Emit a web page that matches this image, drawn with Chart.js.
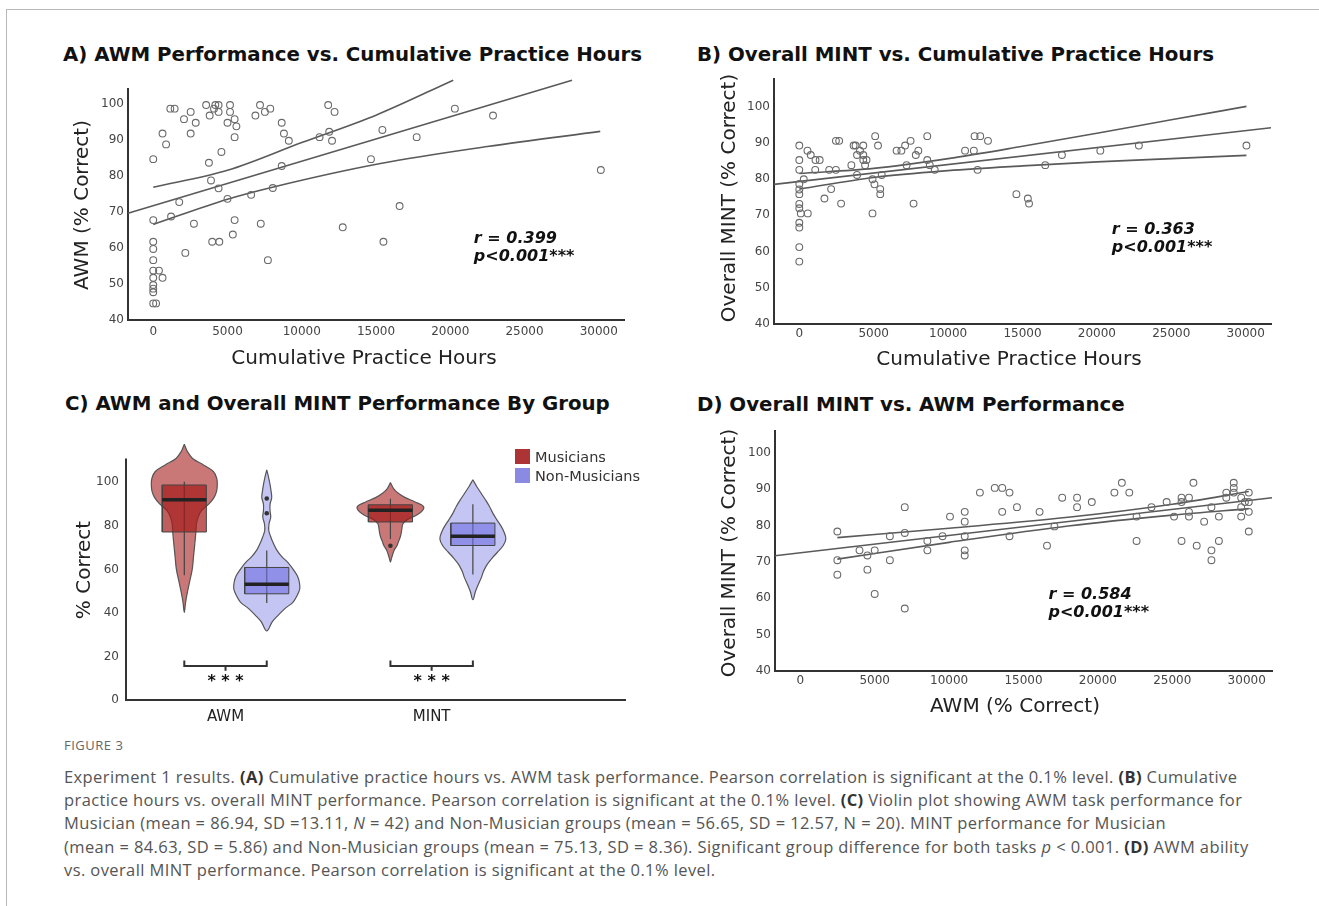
<!DOCTYPE html>
<html lang="en">
<head>
<meta charset="UTF-8" />
<meta name="viewport" content="width=device-width, initial-scale=1.0"/>
<title>Figure 3 - Experiment 1 results</title>
<script src="https://cdn.jsdelivr.net/npm/chart.js"></script>
<style>
  body { margin: 0; background: #fff; }
  #fig { position: relative; width: 1319px; height: 906px; overflow: hidden;
         font-family: 'DejaVu Sans', Verdana, sans-serif; color: #222; }
  #frame { position: absolute; left: 6px; top: 9px; width: 1330px; height: 910px;
           border-top: 1px solid #b8b8b8; border-left: 1px solid #b8b8b8; }
  canvas { position: absolute; }
  .ttl { position: absolute; font-weight: bold; font-size: 19.8px; color: #111;
         white-space: nowrap; transform: translateY(-50%); }
  .axt { position: absolute; font-size: 20px; color: #222; white-space: nowrap;
         transform: translate(-50%, -50%); }
  .axt.v { transform: translate(-50%, -50%) rotate(-90deg); }
  .sw { position: absolute; width: 15px; height: 15px; }
  .leg { position: absolute; font-size: 14.5px; color: #333; white-space: nowrap; transform: translateY(-50%); }
  .cap { position: absolute; left: 64px; font-family: 'Open Sans', sans-serif; font-size: 16.5px;
         letter-spacing: 0.4px; color: #555; white-space: nowrap; transform: translateY(-50%); }
  .cap b { color: #333; }
  .figno { position: absolute; left: 64px; top: 745px; font-family: 'Open Sans', sans-serif;
           font-size: 13px; letter-spacing: 0.5px; color: #666; transform: translateY(-50%); }
</style>
</head>
<body>
<div id="fig">
  <div id="frame"></div>

  <div class="ttl" style="left:63px;top:54px">A) AWM Performance vs. Cumulative Practice Hours</div>
  <div class="ttl" style="left:697px;top:54px">B) Overall MINT vs. Cumulative Practice Hours</div>
  <div class="ttl" style="left:65px;top:403px">C) AWM and Overall MINT Performance By Group</div>
  <div class="ttl" style="left:697px;top:404px">D) Overall MINT vs. AWM Performance</div>

  <canvas id="chartA" width="570" height="272" style="left:60px;top:78px"></canvas>
  <canvas id="chartB" width="580" height="287" style="left:700px;top:68px"></canvas>
  <canvas id="chartC" width="600" height="302" style="left:60px;top:428px"></canvas>
  <canvas id="chartD" width="580" height="285" style="left:700px;top:420px"></canvas>

  <div class="axt v" style="left:81px;top:205px">AWM (% Correct)</div>
  <div class="axt" style="left:364px;top:357px">Cumulative Practice Hours</div>
  <div class="axt v" style="left:728px;top:198px">Overall MINT (% Correct)</div>
  <div class="axt" style="left:1009px;top:358px">Cumulative Practice Hours</div>
  <div class="axt v" style="left:83px;top:570px">% Correct</div>
  <div class="axt v" style="left:728px;top:553px">Overall MINT (% Correct)</div>
  <div class="axt" style="left:1015px;top:705px">AWM (% Correct)</div>

  <div class="sw" style="left:515px;top:449px;background:#ac3434"></div>
  <div class="leg" style="left:535px;top:457px">Musicians</div>
  <div class="sw" style="left:515px;top:468px;background:#8a8ae2"></div>
  <div class="leg" style="left:535px;top:476px">Non-Musicians</div>

  <div class="figno">FIGURE 3</div>
  <div class="cap" style="top:776px">Experiment 1 results. <b>(A)</b> Cumulative practice hours vs. AWM task performance. Pearson correlation is significant at the 0.1% level. <b>(B)</b> Cumulative</div>
  <div class="cap" style="top:799px">practice hours vs. overall MINT performance. Pearson correlation is significant at the 0.1% level. <b>(C)</b> Violin plot showing AWM task performance for</div>
  <div class="cap" style="top:822px">Musician (mean = 86.94, SD =13.11, <i>N</i> = 42) and Non-Musician groups (mean = 56.65, SD = 12.57, N = 20). MINT performance for Musician</div>
  <div class="cap" style="top:846px">(mean = 84.63, SD = 5.86) and Non-Musician groups (mean = 75.13, SD = 8.36). Significant group difference for both tasks <i>p</i> &lt; 0.001. <b>(D)</b> AWM ability</div>
  <div class="cap" style="top:869px">vs. overall MINT performance. Pearson correlation is significant at the 0.1% level.</div>
</div>

<script>
// ---- values ----
const hourTicks = [0, 5000, 10000, 15000, 20000, 25000, 30000];
const pctTicks = [40, 50, 60, 70, 80, 90, 100];
const groupTicks = [0, 20, 40, 60, 80, 100];

// A) practice hours vs AWM
const aHours = [0,625,865,1150,1440,2070,2520,2520,2860,3560,3800,4090,4180,4400,4400,5000,5170,5170,5480,5600,
  5480,4590,3750,3890,4400,5000,1750,1200,0,2740,5480,5360,3970,4450,2160,0,0,0,0,385,
  625,0,0,0,0,0,190,6590,7240,7720,8050,8650,6880,7190,7520,7880,8650,8800,9130,11200,
  11780,12210,11850,12040,12760,14660,15430,15500,16590,17740,20310,22880,30140];
const aAWM = [84.6,91.7,88.7,98.6,98.6,95.7,97.7,91.7,94.7,99.6,96.7,98.6,99.6,99.6,97.7,94.7,99.6,97.7,95.7,93.7,
  90.7,86.6,83.6,78.7,76.5,73.6,72.7,68.7,67.7,66.7,67.7,63.7,61.7,61.7,58.6,61.7,59.7,56.6,53.7,53.7,
  51.7,51.7,49.7,48.7,47.7,44.6,44.6,74.7,66.7,56.6,76.6,82.7,96.7,99.6,97.7,98.6,94.7,91.7,89.7,90.7,
  99.6,97.7,92.2,89.7,65.7,84.6,92.7,61.7,71.6,90.7,98.6,96.7,81.6];
const aFitX = [-1700, 28200], aFitY = [69.6, 106.5];
const aUpX = [0, 5000, 10000, 15000, 20200], aUpY = [76.8, 81.5, 89.2, 96.8, 106.5];
const aLoX = [0, 5000, 8100, 15300, 22500, 30100], aLoY = [66.5, 73.5, 76.9, 83.4, 88.1, 92.3];
const aStats = ['r = 0.399', 'p<0.001***'];

// B) practice hours vs overall MINT
const bHours = [0,0,0,0,0,0,0,0,0,0,0,0,100,570,300,550,770,1090,1370,1070,
  1690,2010,2460,2140,2460,2680,2810,3500,3650,3780,3880,3880,4080,4300,4300,4300,4420,4520,4920,5050,
  4920,5100,5290,5440,5440,5540,6540,6860,7110,7480,7210,7680,7830,8000,8600,8600,8770,9100,11140,11730,
  11780,12160,12680,11980,14590,15360,15440,16530,17650,20230,22820,30050];
const bMINT = [89.2,85.2,82.5,78.6,77.1,75.8,73.1,71.9,67.9,66.6,61.2,57.2,70.5,70.5,79.9,87.8,86.6,85.2,85.2,82.5,
  74.6,82.5,82.5,77.2,90.5,90.5,73.2,83.8,89.2,89.2,81.1,86.6,87.8,89.2,86.6,85.2,83.8,85.2,79.9,78.5,
  70.5,91.8,89.2,77.2,75.8,81.1,87.8,87.8,89.2,90.5,83.8,73.2,86.6,87.8,91.8,85.2,83.8,82.5,87.8,87.8,
  91.8,91.8,90.5,82.5,75.8,74.6,73.2,83.8,86.6,87.8,89.2,89.2];
const bFitX = [-1700, 31700], bFitY = [78.5, 94.1];
const bUpX = [0, 5000, 10000, 15000, 20000, 25000, 30050], bUpY = [81.5, 82.9, 85.6, 89.0, 92.6, 96.3, 100.0];
const bLoX = [0, 5000, 10000, 15000, 20000, 25000, 30050], bLoY = [77.2, 80.4, 82.3, 83.6, 84.7, 85.6, 86.5];
const bStats = ['r = 0.363', 'p<0.001***'];

// D) AWM vs overall MINT
const dAWM = [2490,2490,2490,3980,4510,4510,5000,5000,6020,6020,7020,7020,7020,8540,8540,9560,10060,11050,11050,11050,
  11050,11050,12070,13070,13570,13570,14060,14060,14560,16080,16580,17080,17600,18600,18600,19590,21110,21610,22110,22600,
  22600,23600,24620,25120,25620,25620,25620,26120,26120,26120,26420,26640,27140,27630,27630,27630,28130,28130,28630,28630,
  29130,29130,29130,29630,29630,29630,29880,30140,30140,30140,30140];
const dMINT = [78.4,70.5,66.5,73.2,71.8,67.9,73.2,61.2,77.1,70.5,85.1,78.0,57.2,75.8,73.2,77.1,82.5,83.8,81.1,77.1,
  73.2,71.8,89.1,90.4,90.4,83.8,89.1,77.1,85.1,83.8,74.5,79.8,87.7,87.7,85.1,86.5,89.1,91.8,89.1,82.5,
  75.8,85.1,86.5,82.5,87.7,86.5,75.8,87.7,83.8,82.5,91.8,74.5,81.1,85.1,73.2,70.5,82.5,75.8,89.1,87.7,
  91.8,90.4,89.1,87.7,85.1,82.5,86.5,89.1,86.5,83.8,78.4];
const dFitX = [-1700, 31700], dFitY = [71.7, 87.7];
const dUpX = [2490, 10000, 18000, 25000, 30140], dUpY = [76.7, 79.3, 82.3, 85.9, 89.4];
const dLoX = [2490, 10000, 18000, 25000, 30140], dLoY = [70.8, 75.4, 79.9, 82.9, 84.7];
const dStats = ['r = 0.584', 'p<0.001***'];

// C) violins: % correct levels and relative width of each violin
const tasks = ['AWM', 'MINT'];
const groups = ['Musicians', 'Non-Musicians'];
const musAwmY = [117.5,114,111,108,105,102,99,96,93,90,87,84,81,77,72,66,60,55,50,45,40.3];
const musAwmDens = [0,0.1,0.25,0.58,0.88,0.98,1.0,0.98,0.9,0.74,0.52,0.42,0.37,0.35,0.32,0.28,0.24,0.17,0.1,0.04,0];
const nonAwmY = [105.7,102,99,96,93,90,87,84,81,78,75,72,69,66,63,60,57,54,51,48,45,42,39,36,31.7];
const nonAwmDens = [0,0.06,0.1,0.13,0.15,0.1,0.1,0.12,0.07,0.06,0.12,0.2,0.3,0.45,0.65,0.8,0.93,0.99,1.0,0.92,0.8,0.55,0.35,0.17,0];
const musMintY = [99.9,97,95,93,91,89,87,85,83,81,79,77,75,73,71,69,67,65,63.3];
const musMintDens = [0,0.1,0.24,0.45,0.75,1.0,0.97,0.8,0.52,0.38,0.35,0.33,0.3,0.25,0.2,0.12,0.07,0.03,0];
const nonMintY = [101.2,98,95,92,89,86,83,80,77,74,71,68,65,62,59,56,53,50,46.1];
const nonMintDens = [0,0.12,0.25,0.38,0.5,0.6,0.72,0.85,0.95,1.0,0.92,0.75,0.57,0.42,0.32,0.25,0.16,0.08,0];
// box: low whisker, Q1, median, Q3, high whisker
const musAwmBox = [57.3, 77.2, 92.0, 98.8, 100.3];
const nonAwmBox = [44.6, 48.8, 53.2, 60.9, 68.7];
const musMintBox = [74.0, 81.8, 87.2, 89.7, 92.5];
const nonMintBox = [57.7, 71.0, 75.2, 81.3, 89.9];
const nonAwmOut = [92.6, 85.8];
const musMintOut = [70.9];

// ---- drawing ----
const FONT = "'DejaVu Sans', Verdana, sans-serif";
const pairs = (xs, ys) => xs.map((x, i) => ({x, y: ys[i]}));

function linAxis(min, max, ticks, size, pad, horizontal) {
  return {
    type: 'linear', min, max,
    grid: {display: false, drawTicks: false},
    border: {display: true, color: '#333', width: 2},
    ticks: {padding: pad, color: '#444', autoSkip: false, maxRotation: 0,
            font: {family: FONT, size: 12}, callback: v => String(v)},
    afterBuildTicks: s => { s.ticks = ticks.map(v => ({value: v})); },
    afterFit: s => { if (horizontal) s.height = size; else s.width = size; }
  };
}

function notes(list) {
  return {
    id: 'notes',
    afterDatasetsDraw(chart) {
      const {ctx} = chart, {x, y} = chart.scales;
      ctx.save();
      for (const n of list) {
        ctx.font = n.font;
        ctx.fillStyle = '#111';
        ctx.textAlign = n.align || 'left';
        ctx.textBaseline = 'middle';
        n.lines.forEach((t, i) => ctx.fillText(t, x.getPixelForValue(n.x), y.getPixelForValue(n.y) + i * 18.5));
      }
      ctx.restore();
    }
  };
}

function scatterChart(id, xs, ys, curves, stats, at, yMax, box) {
  const datasets = [{
    data: pairs(xs, ys), pointRadius: 3.4, pointBorderWidth: 1.1,
    pointBorderColor: '#6a6a6a', pointBackgroundColor: 'rgba(255,255,255,0)', order: 0
  }];
  for (const [cx, cy] of curves) {
    datasets.push({data: pairs(cx, cy), showLine: true, pointRadius: 0, borderColor: '#5a5a5a',
      borderWidth: 1.6, cubicInterpolationMode: 'monotone', clip: false, order: 1});
  }
  new Chart(document.getElementById(id), {
    type: 'scatter',
    data: {datasets},
    options: {
      responsive: false, animation: false, events: [],
      layout: {padding: {top: box.pt, right: box.pr, left: 0, bottom: 0}},
      plugins: {legend: {display: false}, tooltip: {enabled: false}},
      scales: {
        x: linAxis(-1700, 31700, hourTicks, box.xh, box.xp, true),
        y: linAxis(40, yMax, pctTicks, box.yw, 4, false)
      }
    },
    plugins: [notes([{x: at[0], y: at[1], lines: stats, font: 'italic bold 16px ' + FONT}])]
  });
}

scatterChart('chartA', aHours, aAWM, [[aFitX, aFitY], [aUpX, aUpY], [aLoX, aLoY]],
  aStats, [21590, 62.6], 104, {pt: 7, pr: 6, yw: 68, xh: 30, xp: 5});
scatterChart('chartB', bHours, bMINT, [[bFitX, bFitY], [bUpX, bUpY], [bLoX, bLoY]],
  bStats, [21000, 66.0], 107.5, {pt: 7, pr: 9, yw: 74, xh: 31, xp: 3});
scatterChart('chartD', dAWM, dMINT, [[dFitX, dFitY], [dUpX, dUpY], [dLoX, dLoY]],
  dStats, [16680, 61.0], 106, {pt: 7, pr: 8, yw: 75, xh: 34, xp: 3});

// C) violin + box plot
const OFFSET = 0.2, VHALF = 0.16, BHALF = 0.107;
const violinFill = ['rgba(170,35,35,0.62)', 'rgba(110,110,225,0.4)'];
const boxFill = ['rgba(165,25,25,0.7)', 'rgba(110,110,225,0.6)'];
const violins = [
  {t: 0, g: 0, ys: musAwmY, d: musAwmDens, box: musAwmBox, out: []},
  {t: 0, g: 1, ys: nonAwmY, d: nonAwmDens, box: nonAwmBox, out: nonAwmOut},
  {t: 1, g: 0, ys: musMintY, d: musMintDens, box: musMintBox, out: musMintOut},
  {t: 1, g: 1, ys: nonMintY, d: nonMintDens, box: nonMintBox, out: []}
];

const cSets = [];
const line = (pts, color, width, order) => ({data: pts, showLine: true, pointRadius: 0,
  borderColor: color, borderWidth: width, clip: false, order});
for (const v of violins) {
  const c = v.t + (v.g === 0 ? -OFFSET : OFFSET);
  const left = v.ys.map((y, i) => ({x: c - v.d[i] * VHALF, y}));
  const right = v.ys.map((y, i) => ({x: c + v.d[i] * VHALF, y})).reverse().slice(1);
  cSets.push(Object.assign(line(left.concat(right), '#555', 1.2, 6),
    {fill: 'shape', backgroundColor: violinFill[v.g], tension: 0.35}));
  cSets.push(line([{x: c, y: v.box[0]}, {x: c, y: v.box[4]}], '#444', 1.2, 5));
  const x0 = c - BHALF, x1 = c + BHALF;
  cSets.push(Object.assign(line([{x: x0, y: v.box[1]}, {x: x1, y: v.box[1]}, {x: x1, y: v.box[3]},
    {x: x0, y: v.box[3]}, {x: x0, y: v.box[1]}], '#444', 1, 4), {fill: 'shape', backgroundColor: boxFill[v.g]}));
  cSets.push(line([{x: x0, y: v.box[2]}, {x: x1, y: v.box[2]}], '#222', 3.5, 3));
  if (v.out.length) {
    cSets.push({data: v.out.map(y => ({x: c, y})), pointRadius: 2.3, pointBackgroundColor: '#333',
      pointBorderWidth: 0, order: 2});
  }
}
// significance brackets
for (let t = 0; t < tasks.length; t++) {
  const a = t - OFFSET, b = t + OFFSET;
  cSets.push(line([{x: a, y: 18.1}, {x: a, y: 15.6}, {x: b, y: 15.6}, {x: b, y: 18.1}], '#333', 2, 1));
  cSets.push(line([{x: t, y: 15.6}, {x: t, y: 13.4}], '#333', 2, 1));
}

const yLine = {
  id: 'yLine',
  afterDraw(chart) {
    const {ctx, chartArea} = chart, y = chart.scales.y;
    ctx.save();
    ctx.strokeStyle = '#333';
    ctx.lineWidth = 2;
    ctx.beginPath();
    ctx.moveTo(chartArea.left - 1, y.getPixelForValue(0) + 1);
    ctx.lineTo(chartArea.left - 1, y.getPixelForValue(111));
    ctx.stroke();
    ctx.restore();
  }
};

const cx = linAxis(-0.478, 1.938, [0, 1], 30, 8, true);
cx.ticks.font = {family: FONT, size: 15};
cx.ticks.color = '#222';
cx.ticks.callback = v => tasks[v];
const cy = linAxis(0, 118, groupTicks, 67, 8, false);
cy.border = {display: false};

new Chart(document.getElementById('chartC'), {
  type: 'scatter',
  data: {datasets: cSets},
  options: {
    responsive: false, animation: false, events: [],
    layout: {padding: {top: 10.5, right: 35, left: 0, bottom: 0}},
    plugins: {legend: {display: false}, tooltip: {enabled: false}},
    scales: {x: cx, y: cy}
  },
  plugins: [yLine, notes(tasks.map((t, i) => ({x: i, y: 8.4, lines: ['* * *'], align: 'center', font: 'bold 16px ' + FONT})))]
});
</script>
</body>
</html>
